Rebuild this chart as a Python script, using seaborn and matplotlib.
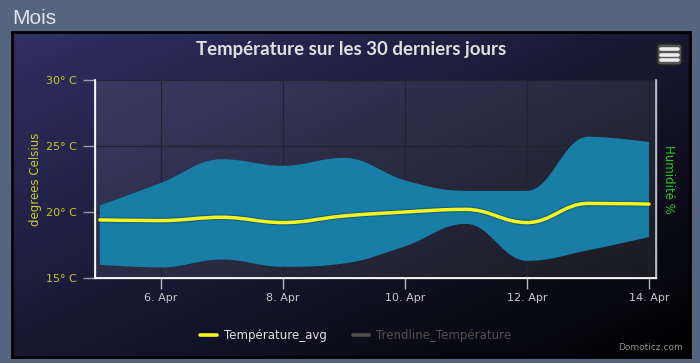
import numpy as np
import pandas as pd
import matplotlib
matplotlib.use('Agg')
import matplotlib.pyplot as plt
import matplotlib.dates as mdates
from matplotlib.path import Path
from matplotlib.patches import PathPatch, FancyBboxPatch
from matplotlib.lines import Line2D
from matplotlib.colors import LinearSegmentedColormap
import seaborn as sns

# Data
days = ['2024-04-05', '2024-04-06', '2024-04-07', '2024-04-08', '2024-04-09',
        '2024-04-10', '2024-04-11', '2024-04-12', '2024-04-13', '2024-04-14']
temp_avg = [19.4, 19.35, 19.6, 19.2, 19.7, 20.0, 20.2, 19.2, 20.65, 20.6]
temp_max = [20.5, 22.2, 24.0, 23.5, 24.1, 22.4, 21.6, 21.6, 25.7, 25.3]
temp_min = [16.0, 15.8, 16.4, 15.85, 16.1, 17.4, 19.1, 16.3, 17.1, 18.1]
tick_days = ['2024-04-06', '2024-04-08', '2024-04-10', '2024-04-12', '2024-04-14']
tick_labels = ['6. Apr', '8. Apr', '10. Apr', '12. Apr', '14. Apr']
y_ticks = [15, 20, 25, 30]
y_labels = ['15° C', '20° C', '25° C', '30° C']

df = pd.DataFrame({'day': pd.to_datetime(days), 'avg': temp_avg,
                   'max': temp_max, 'min': temp_min})
df['x'] = mdates.date2num(df['day'])


def spline_path(xs, ys):
    # highcharts-like spline control points
    n = len(xs)
    left = [None] * n
    right = [None] * n
    for i in range(n):
        x, y = xs[i], ys[i]
        if i == 0 or i == n - 1:
            left[i] = right[i] = (x, y)
            continue
        lx = (1.5 * x + xs[i - 1]) / 2.5
        ly = (1.5 * y + ys[i - 1]) / 2.5
        rx = (1.5 * x + xs[i + 1]) / 2.5
        ry = (1.5 * y + ys[i + 1]) / 2.5
        corr = ((ry - ly) * (rx - x)) / (rx - lx) + y - ry
        ly += corr
        ry += corr
        py, ny = ys[i - 1], ys[i + 1]
        if ly > py and ly > y:
            ly = max(py, y); ry = 2 * y - ly
        elif ly < py and ly < y:
            ly = min(py, y); ry = 2 * y - ly
        if ry > ny and ry > y:
            ry = max(ny, y); ly = 2 * y - ry
        elif ry < ny and ry < y:
            ry = min(ny, y); ly = 2 * y - ry
        left[i] = (lx, ly)
        right[i] = (rx, ry)
    verts = [(xs[0], ys[0])]
    codes = [Path.MOVETO]
    for i in range(1, n):
        verts += [right[i - 1], left[i], (xs[i], ys[i])]
        codes += [Path.CURVE4] * 3
    return verts, codes


sns.set_theme(style='dark')
plt.rcParams['font.family'] = ['DejaVu Sans']

W, H = 700, 363
fig = plt.figure(figsize=(7, 3.63), dpi=100)
fig.patch.set_facecolor('#55647f')

# chart container with diagonal gradient
bg = fig.add_axes([12 / W, 1 - 357 / H, 678 / W, 325 / H])
gx, gy = np.meshgrid(np.linspace(0, 1, 300), np.linspace(0, 1, 150))
grad = (gx + gy) / 2
cmap = LinearSegmentedColormap.from_list('bg', ['#303064', '#000000'])
bg.imshow(grad, cmap=cmap, aspect='auto', extent=[0, 1, 0, 1])
bg.set_xticks([]); bg.set_yticks([])
for s in bg.spines.values():
    s.set_color('black'); s.set_linewidth(2)
bg.set_zorder(0)

fig.text(12 / W, 1 - 18 / H, 'Mois', fontsize=15, color='#e2e6f0',
         family='Liberation Sans', va='center', ha='left')

ax = fig.add_axes([95 / W, 1 - 278 / H, 561 / W, 198 / H])
ax.set_zorder(2)
ax.set_facecolor((1, 1, 1, 0.08))

xs = df['x'].to_numpy()
vu, cu = spline_path(xs, df['max'].to_numpy())
vl, cl = spline_path(xs[::-1], df['min'].to_numpy()[::-1])
band_verts = vu + vl + [vu[0]]
band_codes = cu + [Path.LINETO] + cl[1:] + [Path.CLOSEPOLY]
ax.add_patch(PathPatch(Path(band_verts, band_codes), facecolor='#187ea6',
                       edgecolor='none', zorder=2))

va, ca = spline_path(xs, df['avg'].to_numpy())
ax.add_patch(PathPatch(Path(va, ca), fill=False, edgecolor=(0, 0, 0, 0.2),
                       lw=4.2, zorder=3))
ax.add_patch(PathPatch(Path(va, ca), fill=False, edgecolor='#f4f71c',
                       lw=2.5, capstyle='round', zorder=4))

x0 = xs[0] - 0.08
x1 = xs[-1] + 0.115
ax.set_xlim(x0, x1)
ax.set_ylim(15, 30)
ax.set_xticks(mdates.date2num(pd.to_datetime(tick_days)))
ax.set_xticklabels(tick_labels)
ax.set_yticks(y_ticks)
ax.set_yticklabels(y_labels)
ax.grid(True, color='#222230', lw=0.9)
ax.tick_params(axis='x', colors='#b8b8c0', labelcolor='#c8c8cc', length=8,
               width=1, direction='out', labelsize=8, pad=3, bottom=True)
ax.tick_params(axis='y', colors='#9a9aaa', labelcolor='#caca22', length=9,
               width=1, direction='out', labelsize=8, pad=4, left=True)
ax.spines['top'].set_visible(False)
for side in ['left', 'bottom', 'right']:
    ax.spines[side].set_color('#b8b8c0')
    ax.spines[side].set_linewidth(1)
ax.set_ylabel('degrees Celsius', color='#caca22', fontsize=8.5, labelpad=3)

ax2 = ax.twinx()
ax2.set_yticks([])
ax2.spines['right'].set_color('#b8b8c0')
ax2.spines['top'].set_visible(False)
ax2.set_ylabel('Humidité %', color='#22cc22', fontsize=8.5, rotation=270,
               labelpad=14)

fig.text(351 / W, 1 - 50 / H, 'Température sur les 30 derniers jours',
         fontsize=13.4, fontweight='bold', family='Lato', color='#e0e0e0',
         ha='center', va='center')

handles = [Line2D([], [], color='#f4f71c', lw=2.6),
           Line2D([], [], color='#505050', lw=2.6)]
leg = fig.legend(handles, ['Température_avg', 'Trendline_Température'],
                 loc='center', bbox_to_anchor=(356 / W, 1 - 336 / H), ncol=2,
                 frameon=False, fontsize=8.5, handlelength=1.4,
                 columnspacing=2.2, handletextpad=0.6)
leg.get_texts()[0].set_color('#e0e0e0')
leg.get_texts()[1].set_color('#505050')

fig.text(683 / W, 1 - 348 / H, 'Domoticz.com', fontsize=6.5, color='#909090',
         ha='right', va='center')

# menu button
btn = fig.add_axes([656 / W, 1 - 66 / H, 27 / W, 23 / H])
btn.set_xlim(0, 1); btn.set_ylim(0, 1)
btn.axis('off')
btn.add_patch(FancyBboxPatch((0.04, 0.04), 0.92, 0.92,
                             boxstyle='round,pad=0,rounding_size=0.15',
                             facecolor='#555555', edgecolor='#222222', lw=1))
for yy in [0.27, 0.5, 0.73]:
    btn.plot([0.2, 0.8], [yy, yy], color='#ececec', lw=2.6,
             solid_capstyle='round')

fig.savefig('out.png', dpi=100, facecolor=fig.get_facecolor())
